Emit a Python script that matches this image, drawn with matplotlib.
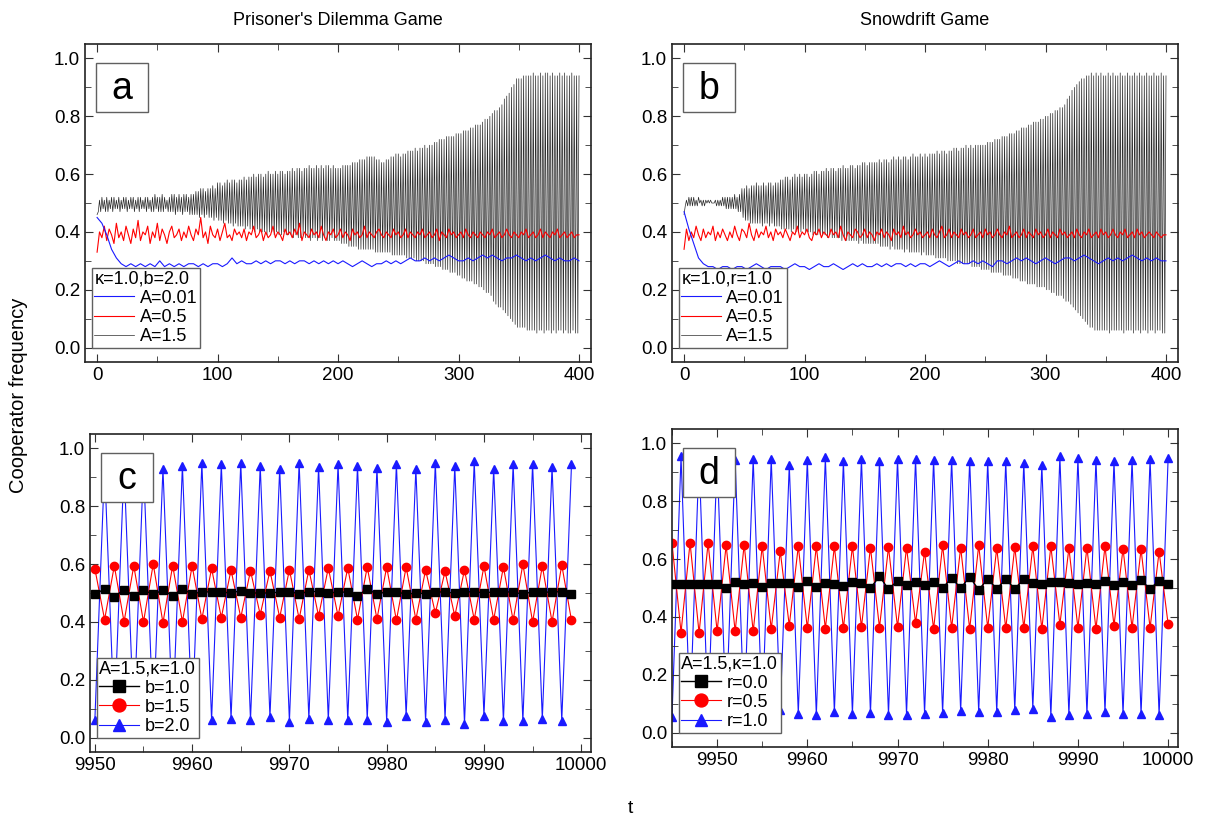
import numpy as np
import matplotlib
matplotlib.use('Agg')
import matplotlib.pyplot as plt
from matplotlib.patches import Rectangle
from matplotlib.ticker import MultipleLocator, FormatStrFormatter

plt.rcParams['font.family'] = ['Liberation Sans', 'DejaVu Sans']
plt.rcParams['font.size'] = 12

# ---- top panels: values in hundredths ----
# black (A=1.5): peaks at even t, troughs at odd t
pd_black_hi = [46, 51, 52, 51, 52, 51, 52, 52, 51, 52, 51, 52, 52, 51, 52, 52, 51, 52, 52, 51,
               52, 52, 51, 52, 53, 52, 52, 53, 52, 51, 52, 53, 53, 52, 53, 52, 53, 53, 52, 53,
               53, 54, 54, 55, 55, 54, 55, 55, 56, 55, 57, 57, 56, 57, 58, 57, 58, 58, 57, 58,
               58, 59, 58, 59, 59, 60, 59, 60, 60, 59, 60, 61, 60, 60, 61, 60, 61, 61, 60, 61,
               61, 62, 61, 62, 62, 61, 62, 62, 63, 62, 62, 63, 62, 63, 62, 63, 63, 62, 63, 62,
               62, 62, 63, 63, 63, 63, 64, 64, 64, 65, 65, 65, 66, 66, 66, 66, 65, 65, 64, 64,
               65, 65, 66, 66, 67, 67, 66, 67, 67, 68, 68, 68, 69, 68, 69, 69, 70, 69, 70, 70,
               71, 71, 72, 72, 72, 73, 73, 73, 73, 74, 74, 74, 75, 75, 75, 76, 76, 77, 77, 77,
               78, 79, 79, 80, 81, 82, 82, 83, 84, 86, 87, 88, 90, 91, 93, 93, 93, 94, 94, 94,
               94, 95, 94, 94, 95, 94, 95, 95, 94, 95, 94, 94, 95, 94, 95, 94, 94, 95, 94, 94,
               94]
pd_black_lo = [47, 47, 48, 47, 47, 48, 47, 48, 48, 47, 48, 48, 47, 48, 48, 47, 48, 47, 48, 48,
               47, 48, 47, 47, 48, 47, 47, 47, 48, 47, 47, 47, 46, 47, 47, 46, 47, 47, 46, 46,
               46, 46, 45, 46, 45, 46, 45, 45, 44, 45, 44, 44, 43, 44, 43, 43, 42, 43, 42, 42,
               42, 41, 42, 41, 41, 40, 41, 40, 40, 40, 39, 40, 40, 39, 40, 39, 39, 40, 39, 39,
               39, 38, 39, 38, 38, 39, 38, 38, 37, 38, 38, 37, 38, 37, 38, 37, 37, 38, 37, 37,
               37, 36, 36, 36, 35, 35, 35, 35, 34, 34, 34, 34, 34, 34, 34, 33, 33, 33, 33, 33,
               33, 33, 32, 32, 32, 32, 32, 32, 31, 31, 31, 31, 30, 30, 30, 30, 29, 29, 29, 29,
               28, 28, 28, 27, 27, 27, 26, 26, 26, 25, 25, 24, 24, 23, 23, 23, 22, 22, 21, 21,
               20, 19, 19, 18, 16, 15, 14, 14, 13, 12, 11, 10, 9, 8, 7, 7, 7, 7, 6, 6,
               6, 6, 5, 6, 6, 5, 6, 6, 5, 6, 5, 6, 6, 5, 6, 5, 5, 6, 5, 5]
# red (A=0.5) every 2 steps, blue (A=0.01) every 4 steps
pd_red = [33, 40, 38, 42, 37, 41, 39, 36, 43, 38, 40, 37, 42, 39, 36, 41, 38, 44, 37, 40,
          39, 42, 36, 40, 38, 43, 37, 41, 39, 36, 40, 42, 38, 39, 41, 37, 40, 38, 42, 39,
          37, 41, 39, 45, 38, 40, 36, 42, 39, 38, 41, 37, 40, 43, 38, 39, 37, 41, 39, 40,
          38, 41, 37, 40, 39, 42, 38, 39, 41, 37, 40, 38, 39, 42, 38, 40, 39, 37, 41, 39,
          40, 38, 41, 39, 43, 37, 40, 39, 38, 41, 39, 40, 38, 42, 39, 37, 40, 39, 41, 38,
          39, 41, 38, 40, 39, 37, 41, 39, 40, 38, 39, 42, 38, 40, 39, 38, 40, 41, 39, 38,
          40, 39, 38, 41, 39, 40, 38, 39, 41, 38, 40, 39, 38, 40, 39, 41, 38, 39, 40, 38,
          39, 41, 37, 40, 39, 38, 41, 39, 40, 38, 39, 40, 38, 41, 39, 38, 40, 39, 38, 40,
          39, 38, 40, 39, 41, 38, 39, 40, 38, 39, 41, 39, 38, 40, 39, 38, 40, 39, 41, 38,
          39, 40, 38, 39, 41, 38, 40, 39, 38, 40, 39, 41, 38, 39, 40, 38, 39, 40, 38, 39,
          39]
pd_blue = [45, 43, 39, 34, 31, 29, 28, 29, 28, 29,
           28, 29, 28, 30, 28, 29, 28, 29, 28, 29,
           29, 28, 29, 28, 29, 29, 28, 29, 31, 29,
           30, 29, 29, 30, 29, 30, 29, 30, 30, 29,
           30, 29, 30, 30, 29, 30, 29, 30, 29, 30,
           29, 30, 29, 28, 29, 30, 29, 28, 29, 29,
           30, 29, 30, 29, 30, 31, 30, 30, 31, 30,
           31, 30, 31, 32, 31, 30, 30, 31, 30, 31,
           32, 31, 32, 31, 30, 31, 31, 32, 31, 30,
           31, 30, 31, 32, 31, 30, 31, 30, 30, 31,
           30]

sd_black_hi = [46, 51, 52, 52, 52, 51, 52, 51, 51, 51, 51, 51, 50, 51, 51, 51, 52, 52, 52, 52,
               52, 53, 52, 53, 55, 55, 56, 55, 56, 56, 57, 56, 56, 57, 56, 57, 57, 56, 57, 57,
               58, 58, 59, 59, 58, 59, 60, 59, 60, 59, 60, 60, 59, 60, 61, 61, 60, 61, 61, 62,
               61, 62, 62, 61, 62, 62, 63, 62, 62, 63, 63, 62, 63, 63, 64, 64, 63, 64, 64, 64,
               64, 65, 64, 65, 65, 64, 65, 66, 65, 66, 65, 66, 66, 65, 66, 67, 66, 66, 67, 66,
               67, 66, 67, 67, 67, 68, 67, 68, 68, 67, 68, 68, 69, 69, 68, 69, 69, 70, 69, 70,
               69, 70, 70, 70, 70, 70, 71, 71, 71, 72, 72, 72, 73, 73, 73, 74, 74, 74, 75, 75,
               76, 76, 76, 77, 77, 78, 78, 78, 79, 79, 80, 80, 81, 81, 82, 82, 83, 83, 84, 86,
               87, 89, 90, 91, 92, 93, 93, 94, 94, 95, 94, 95, 94, 95, 94, 94, 95, 94, 95, 94,
               94, 95, 94, 94, 95, 94, 94, 95, 94, 95, 94, 94, 95, 94, 94, 95, 94, 94, 95, 94,
               94]
sd_black_lo = [49, 49, 49, 49, 49, 49, 50, 49, 49, 50, 50, 50, 50, 49, 49, 49, 49, 48, 48, 48,
               48, 48, 47, 47, 45, 44, 44, 43, 43, 43, 43, 43, 42, 43, 43, 42, 43, 42, 42, 42,
               41, 41, 41, 41, 40, 41, 40, 40, 40, 41, 40, 40, 40, 39, 39, 39, 39, 39, 39, 38,
               39, 38, 38, 38, 38, 37, 38, 37, 37, 37, 37, 37, 36, 37, 36, 36, 36, 36, 36, 36,
               36, 35, 35, 35, 35, 34, 35, 34, 34, 34, 34, 33, 34, 33, 33, 33, 33, 33, 32, 33,
               32, 32, 32, 32, 31, 31, 31, 31, 31, 30, 30, 30, 30, 29, 29, 29, 29, 29, 29, 28,
               28, 28, 28, 27, 27, 27, 27, 26, 26, 26, 26, 26, 25, 25, 25, 25, 24, 24, 24, 23,
               23, 23, 22, 22, 22, 22, 21, 21, 21, 21, 20, 20, 19, 19, 18, 18, 18, 17, 16, 16,
               15, 14, 13, 12, 11, 10, 9, 8, 7, 7, 6, 6, 6, 6, 6, 6, 5, 6, 6, 6,
               6, 6, 5, 6, 6, 6, 5, 6, 6, 5, 6, 6, 5, 6, 6, 5, 6, 6, 5, 5]
sd_red = [34, 41, 37, 40, 38, 42, 39, 37, 41, 38, 40, 39, 42, 37, 40, 38, 41, 39, 37, 40,
          38, 42, 39, 37, 41, 40, 38, 43, 39, 37, 41, 38, 40, 39, 42, 38, 40, 37, 41, 39,
          40, 38, 41, 39, 37, 40, 39, 42, 38, 40, 39, 41, 38, 37, 40, 39, 41, 38, 40, 39,
          38, 41, 39, 40, 38, 42, 39, 37, 40, 39, 38, 41, 40, 38, 39, 41, 38, 40, 39, 37,
          40, 39, 41, 38, 40, 39, 37, 41, 39, 40, 38, 42, 39, 40, 38, 39, 41, 39, 40, 38,
          39, 40, 38, 41, 39, 38, 40, 42, 38, 39, 41, 38, 40, 39, 38, 41, 39, 40, 38, 39,
          41, 38, 39, 40, 38, 41, 39, 40, 38, 39, 41, 39, 38, 40, 39, 42, 38, 39, 40, 38,
          39, 41, 38, 40, 39, 38, 41, 39, 40, 38, 39, 41, 38, 40, 39, 38, 41, 39, 40, 38,
          39, 40, 38, 41, 39, 38, 40, 39, 41, 38, 39, 40, 38, 41, 39, 40, 38, 39, 41, 39,
          38, 40, 39, 41, 38, 39, 40, 38, 41, 39, 40, 38, 39, 40, 39, 38, 40, 39, 38, 39,
          39]
sd_blue = [47, 41, 36, 31, 29, 28, 28, 27, 28, 28,
           27, 28, 28, 27, 28, 29, 28, 27, 28, 28,
           28, 27, 28, 29, 28, 28, 27, 28, 29, 28,
           28, 29, 28, 27, 28, 29, 28, 29, 28, 28,
           29, 28, 29, 28, 29, 29, 28, 29, 28, 29,
           29, 28, 29, 30, 29, 28, 29, 30, 29, 29,
           30, 29, 30, 29, 28, 30, 30, 29, 30, 31,
           30, 31, 30, 29, 30, 31, 30, 29, 30, 31,
           31, 30, 31, 32, 31, 30, 29, 30, 31, 30,
           31, 30, 31, 32, 31, 30, 31, 30, 31, 30,
           30]

# ---- bottom panels ----
c_t0, c_t1 = 9950, 9999
c_black = [0.495, 0.514, 0.487, 0.512, 0.49, 0.51, 0.495, 0.51, 0.49, 0.515,
           0.495, 0.505, 0.503, 0.503, 0.50, 0.508, 0.50, 0.50, 0.50, 0.503,
           0.505, 0.497, 0.505, 0.505, 0.50, 0.503, 0.503, 0.489, 0.515, 0.495,
           0.505, 0.505, 0.495, 0.50, 0.498, 0.504, 0.503, 0.50, 0.503, 0.505,
           0.50, 0.504, 0.503, 0.504, 0.495, 0.505, 0.503, 0.503, 0.505, 0.498]
c_red = [0.584, 0.408, 0.594, 0.40, 0.594, 0.40, 0.60, 0.397, 0.595, 0.40,
         0.594, 0.41, 0.585, 0.415, 0.58, 0.415, 0.577, 0.425, 0.577, 0.415,
         0.581, 0.41, 0.581, 0.42, 0.587, 0.42, 0.587, 0.408, 0.59, 0.41,
         0.59, 0.405, 0.59, 0.408, 0.58, 0.43, 0.575, 0.42, 0.58, 0.408,
         0.593, 0.408, 0.59, 0.405, 0.60, 0.40, 0.593, 0.40, 0.597, 0.405]
c_blue = [0.06, 0.94, 0.06, 0.94, 0.06, 0.94, 0.06, 0.93, 0.06, 0.94,
          0.06, 0.95, 0.06, 0.945, 0.065, 0.95, 0.06, 0.94, 0.07, 0.93,
          0.055, 0.95, 0.065, 0.935, 0.06, 0.945, 0.06, 0.94, 0.062, 0.933,
          0.055, 0.947, 0.074, 0.93, 0.055, 0.95, 0.062, 0.94, 0.048, 0.955,
          0.074, 0.93, 0.056, 0.945, 0.056, 0.947, 0.064, 0.937, 0.058, 0.945]

d_t0, d_t1 = 9945, 10000
d_black = [0.514, 0.514, 0.514, 0.514, 0.514, 0.514,
           0.50, 0.52, 0.514, 0.516, 0.502, 0.516, 0.518, 0.516, 0.504, 0.524,
           0.502, 0.516, 0.514, 0.507, 0.52, 0.516, 0.50, 0.54, 0.496, 0.525,
           0.51, 0.52, 0.509, 0.52, 0.50, 0.535, 0.50, 0.538, 0.494, 0.531,
           0.498, 0.53, 0.498, 0.53, 0.518, 0.513, 0.52, 0.52, 0.516, 0.515,
           0.518, 0.513, 0.525, 0.51, 0.522, 0.51, 0.526, 0.498, 0.525, 0.513]
d_red = [0.655, 0.346, 0.657, 0.344, 0.656, 0.35,
         0.648, 0.35, 0.65, 0.35, 0.645, 0.358, 0.627, 0.37, 0.645, 0.361,
         0.644, 0.359, 0.644, 0.361, 0.644, 0.365, 0.64, 0.363, 0.641, 0.365,
         0.64, 0.379, 0.626, 0.358, 0.648, 0.362, 0.64, 0.358, 0.648, 0.362,
         0.638, 0.36, 0.642, 0.362, 0.644, 0.358, 0.644, 0.373, 0.638, 0.362,
         0.64, 0.358, 0.644, 0.37, 0.636, 0.362, 0.634, 0.362, 0.626, 0.375]
d_blue = [0.055, 0.955, 0.06, 0.95, 0.06, 0.95,
          0.06, 0.944, 0.06, 0.946, 0.065, 0.946, 0.077, 0.926, 0.065, 0.944,
          0.06, 0.952, 0.07, 0.938, 0.065, 0.946, 0.066, 0.941, 0.062, 0.946,
          0.062, 0.947, 0.065, 0.944, 0.067, 0.944, 0.073, 0.941, 0.07, 0.938,
          0.07, 0.938, 0.077, 0.934, 0.083, 0.926, 0.055, 0.955, 0.06, 0.949,
          0.063, 0.944, 0.07, 0.938, 0.063, 0.944, 0.063, 0.946, 0.059, 0.949]

BLUE = '#1a1aff'
EDGE = '#606060'


def black_series(hi, lo):
    t = np.concatenate([np.arange(len(hi)) * 2, np.arange(len(lo)) * 2 + 1])
    y = np.concatenate([hi, lo]) / 100.0
    o = np.argsort(t)
    return t[o], y[o]


def style(ax, xmaj, xmin):
    ax.set_ylim(-0.05, 1.05)
    ax.xaxis.set_major_locator(MultipleLocator(xmaj))
    ax.xaxis.set_minor_locator(MultipleLocator(xmin))
    ax.yaxis.set_major_locator(MultipleLocator(0.2))
    ax.yaxis.set_minor_locator(MultipleLocator(0.1))
    ax.yaxis.set_major_formatter(FormatStrFormatter('%.1f'))
    ax.tick_params(which='both', direction='in', top=True, right=True, labelsize=13.5,
                   color='#333333')
    ax.tick_params(which='major', length=5.5)
    ax.tick_params(which='minor', length=4.5)
    for s in ax.spines.values():
        s.set_linewidth(1.2)
        s.set_color('#222222')


def letter_box(ax, letter):
    ax.add_patch(Rectangle((0.021, 0.786), 0.104, 0.154, transform=ax.transAxes,
                           fc='white', ec=EDGE, lw=1.0, zorder=5))
    ax.text(0.073, 0.860, letter, transform=ax.transAxes, ha='center', va='center',
            fontsize=27, zorder=6)


def make_legend(ax, handles, title, **kw):
    leg = ax.legend(handles=handles, title=title, loc='lower left',
                    bbox_to_anchor=(0.013, 0.045), borderaxespad=0, fancybox=False,
                    framealpha=1, edgecolor=EDGE, borderpad=0.15, labelspacing=0.12,
                    handletextpad=0.3, fontsize=13, title_fontsize=13,
                    alignment='left', **kw)
    leg.get_frame().set_linewidth(1.0)
    leg.set_zorder(7)
    return leg


def top_panel(ax, hi, lo, red, blue, letter, title, ltitle):
    t, y = black_series(hi, lo)
    l3, = ax.plot(t, y, color='#2a2a2a', lw=0.5, zorder=1, label='A=1.5')
    l2, = ax.plot(np.arange(len(red)) * 2, np.array(red) / 100.0, color='red',
                  lw=0.8, zorder=2, label='A=0.5')
    l1, = ax.plot(np.arange(len(blue)) * 4, np.array(blue) / 100.0, color=BLUE,
                  lw=0.8, zorder=3, label='A=0.01')
    ax.set_xlim(-10, 410)
    style(ax, 100, 50)
    letter_box(ax, letter)
    make_legend(ax, [l1, l2, l3], ltitle, handlelength=2.2)
    ax.set_title(title, fontsize=13, pad=14)


def bottom_panel(ax, t0, t1, blk, red, blue, letter, labels, xlim):
    t = np.arange(t0, t1 + 1)
    l3, = ax.plot(t, blue, color=BLUE, lw=0.8, marker='^', ms=6, zorder=1,
                  label=labels[2])
    l2, = ax.plot(t, red, color='red', lw=0.8, marker='o', ms=6, zorder=2,
                  label=labels[1])
    l1, = ax.plot(t, blk, color='black', lw=1.0, marker='s', ms=5.3, zorder=3,
                  label=labels[0])
    ax.set_xlim(*xlim)
    style(ax, 10, 5)
    letter_box(ax, letter)
    make_legend(ax, [l1, l2, l3], 'A=1.5,\u03ba=1.0', handlelength=2.2, markerscale=1.55)


fig = plt.figure(figsize=(12.08, 8.17), dpi=100)
ax_a = fig.add_axes([0.0704, 0.5569, 0.4189, 0.3892])
ax_b = fig.add_axes([0.5563, 0.5569, 0.4189, 0.3892])
ax_c = fig.add_axes([0.0745, 0.0796, 0.4147, 0.3892])
ax_d = fig.add_axes([0.5563, 0.0857, 0.4189, 0.3892])

top_panel(ax_a, pd_black_hi, pd_black_lo, pd_red, pd_blue, 'a',
          "Prisoner's Dilemma Game", '\u03ba=1.0,b=2.0')
top_panel(ax_b, sd_black_hi, sd_black_lo, sd_red, sd_blue, 'b',
          'Snowdrift Game', '\u03ba=1.0,r=1.0')
bottom_panel(ax_c, c_t0, c_t1, c_black, c_red, c_blue, 'c',
             ['b=1.0', 'b=1.5', 'b=2.0'], (9949.5, 10001))
bottom_panel(ax_d, d_t0, d_t1, d_black, d_red, d_blue, 'd',
             ['r=0.0', 'r=0.5', 'r=1.0'], (9945, 10001.1))

fig.text(0.015, 0.516, 'Cooperator frequency', rotation=90, ha='center', va='center',
         fontsize=14.5)
fig.text(0.5215, 0.011, 't', ha='center', va='center', fontsize=14)

fig.savefig('out.png', dpi=100)
